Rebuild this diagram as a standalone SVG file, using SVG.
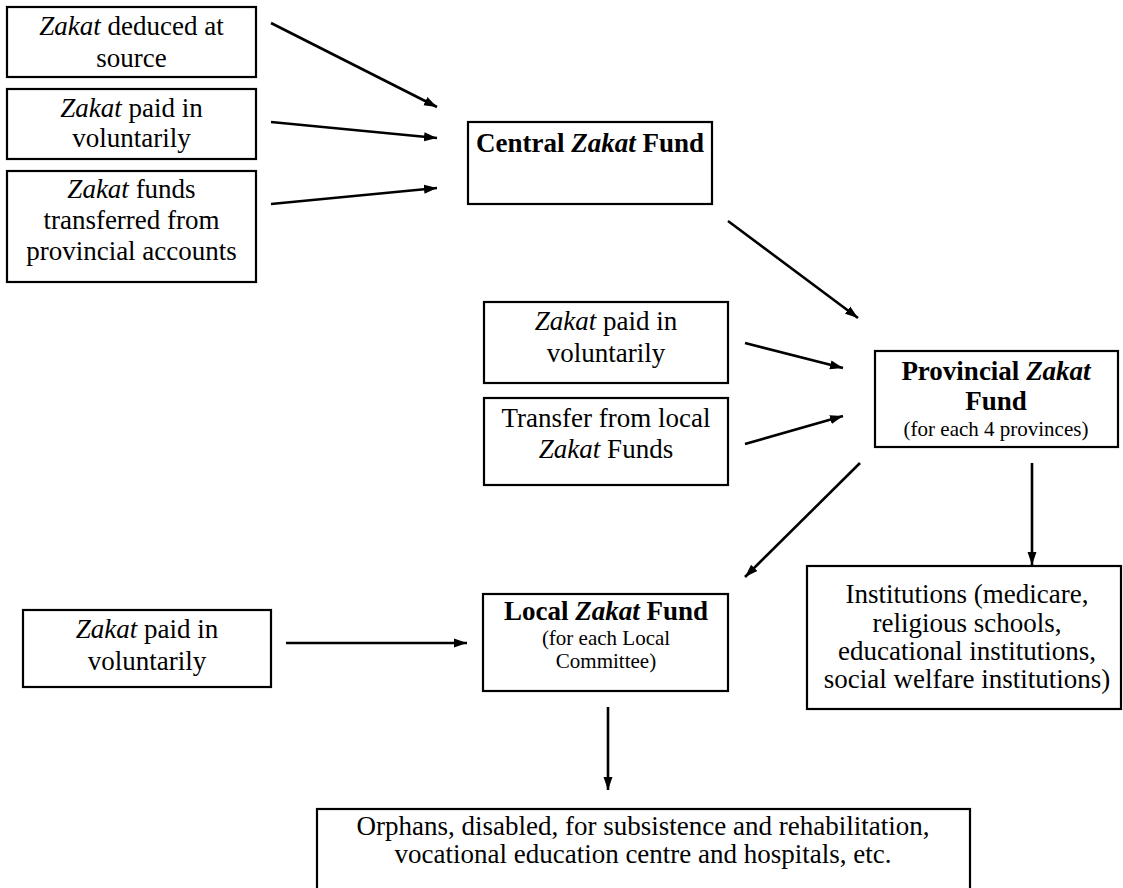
<svg xmlns="http://www.w3.org/2000/svg" width="1123" height="888" viewBox="0 0 1123 888">
<defs>
<style>
.box{fill:#fff;stroke:#000;stroke-width:2.2}
text{font-family:'Liberation Serif','Times New Roman','DejaVu Serif',serif;font-size:27px;fill:#000;text-anchor:middle}
.b{font-weight:bold}
.s{font-size:21px}
.i{font-style:italic}
.c{stroke:#000;stroke-width:2.6;fill:none;marker-end:url(#ah)}
</style>
<marker id="ah" markerUnits="userSpaceOnUse" markerWidth="14" markerHeight="10" refX="13" refY="5" orient="auto">
<path d="M0,0.5 L13,5 L0,9.5 z" fill="#000"/>
</marker>
</defs>
<rect width="1123" height="888" fill="#fff"/>

<g id="connectors">
<line class="c" x1="271" y1="23" x2="437" y2="107"/>
<line class="c" x1="271" y1="122" x2="437" y2="138"/>
<line class="c" x1="271" y1="204" x2="437" y2="188"/>
<line class="c" x1="728" y1="221" x2="858" y2="318"/>
<line class="c" x1="745" y1="343" x2="843" y2="368"/>
<line class="c" x1="745" y1="444" x2="843" y2="416"/>
<line class="c" x1="860" y1="463" x2="745" y2="577"/>
<line class="c" x1="1032" y1="463" x2="1032" y2="565"/>
<line class="c" x1="286" y1="643" x2="467" y2="643"/>
<line class="c" x1="608" y1="707" x2="608" y2="790"/>
</g>

<g id="src-deduced" font-family="Liberation Serif, serif">
<rect class="box" x="7" y="7" width="249" height="70"/>
<text x="131.5" y="35"><tspan class="i">Zakat</tspan> deduced at</text>
<text x="131.5" y="67">source</text>
</g>

<g id="src-voluntary-central">
<rect class="box" x="7" y="89" width="249" height="70"/>
<text x="131.5" y="117"><tspan class="i">Zakat</tspan> paid in</text>
<text x="131.5" y="147">voluntarily</text>
</g>

<g id="src-transferred">
<rect class="box" x="7" y="171" width="249" height="111"/>
<text x="131.5" y="198"><tspan class="i">Zakat</tspan> funds</text>
<text x="131.5" y="229">transferred from</text>
<text x="131.5" y="260">provincial accounts</text>
</g>

<g id="central">
<rect class="box" x="468" y="122" width="244" height="82"/>
<text class="b" x="590" y="152">Central <tspan class="i">Zakat</tspan> Fund</text>
</g>

<g id="src-voluntary-prov">
<rect class="box" x="484" y="302" width="244" height="81"/>
<text x="606" y="330"><tspan class="i">Zakat</tspan> paid in</text>
<text x="606" y="362">voluntarily</text>
</g>

<g id="src-transfer-local">
<rect class="box" x="484" y="398" width="244" height="87"/>
<text x="606" y="427">Transfer from local</text>
<text x="606" y="458"><tspan class="i">Zakat</tspan> Funds</text>
</g>

<g id="provincial">
<rect class="box" x="875" y="351" width="243" height="96"/>
<text class="b" x="996" y="380">Provincial <tspan class="i">Zakat</tspan></text>
<text class="b" x="996" y="410">Fund</text>
<text class="s" x="996" y="436">(for each 4 provinces)</text>
</g>

<g id="institutions">
<rect class="box" x="807" y="566" width="314" height="143"/>
<text x="967" y="603">Institutions (medicare,</text>
<text x="967" y="632">religious schools,</text>
<text x="967" y="660">educational institutions,</text>
<text x="967" y="688">social welfare institutions)</text>
</g>

<g id="src-voluntary-local">
<rect class="box" x="23" y="610" width="248" height="77"/>
<text x="147" y="638"><tspan class="i">Zakat</tspan> paid in</text>
<text x="147" y="670">voluntarily</text>
</g>

<g id="local">
<rect class="box" x="483" y="594" width="245" height="97"/>
<text class="b" x="606" y="620">Local <tspan class="i">Zakat</tspan> Fund</text>
<text class="s" x="606" y="645">(for each Local</text>
<text class="s" x="606" y="668">Committee)</text>
</g>

<g id="beneficiaries">
<rect class="box" x="317" y="809" width="653" height="90"/>
<text x="643" y="835">Orphans, disabled, for subsistence and rehabilitation,</text>
<text x="643" y="863">vocational education centre and hospitals, etc.</text>
</g>
</svg>
